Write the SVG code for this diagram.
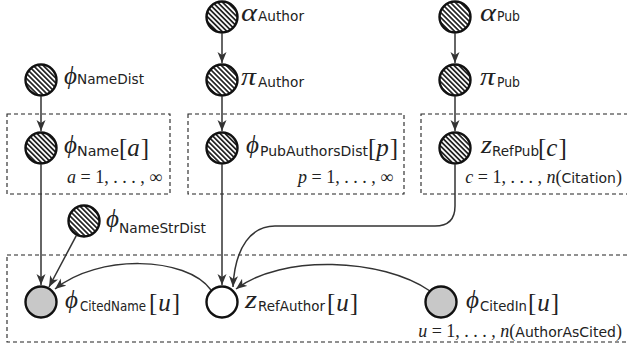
<svg xmlns="http://www.w3.org/2000/svg" width="627" height="356" viewBox="0 0 627 356">
  <style>
    .node { stroke: #111; stroke-width: 2.4; }
    .hatched { fill: url(#hatch); }
    .observed { fill: #c8c8c8; }
    .latent { fill: #fff; }
    .plate { fill: none; stroke: #222; stroke-width: 1.1; stroke-dasharray: 4 3; }
    .edge { fill: none; stroke: #333; stroke-width: 1.5; marker-end: url(#arrow); }
    .m { font-family: "Liberation Serif", "DejaVu Serif", serif; font-style: italic; font-size: 25px; fill: #222; }
    .r { font-family: "Liberation Serif", "DejaVu Serif", serif; font-size: 25px; fill: #222; }
    .s { font-family: "DejaVu Sans", "Liberation Sans", sans-serif; font-size: 13.5px; fill: #222; }
    .eq { font-family: "Liberation Serif", "DejaVu Serif", serif; font-size: 18px; fill: #222; }
    .eqs { font-family: "DejaVu Sans", "Liberation Sans", sans-serif; font-size: 14px; fill: #222; }
  </style>
  <defs>
    <pattern id="hatch" patternUnits="userSpaceOnUse" width="3.5" height="3.5" patternTransform="rotate(45)">
      <rect width="3.5" height="3.5" fill="#fff"/>
      <line x1="0" y1="1.75" x2="3.5" y2="1.75" stroke="#111" stroke-width="1.6"/>
    </pattern>
    <marker id="arrow" markerUnits="userSpaceOnUse" markerWidth="13" markerHeight="10" refX="11" refY="4.5" orient="auto">
      <path d="M0,0 L11,4.5 L0,9 L3,4.5 Z" fill="#333"/>
    </marker>
  </defs>

  <!-- plates -->
  <g id="plates">
    <rect class="plate" x="7" y="114" width="163" height="80"/>
    <rect class="plate" x="188" y="114" width="216" height="80"/>
    <rect class="plate" x="421" y="114" width="215" height="80"/>
    <rect class="plate" x="7" y="255" width="630" height="87"/>
    <text class="eq" x="162" y="183" text-anchor="end"><tspan font-style="italic">a</tspan> = 1, . . . , ∞</text>
    <text class="eq" x="393" y="183" text-anchor="end"><tspan font-style="italic">p</tspan> = 1, . . . , ∞</text>
    <text class="eq" x="622" y="183" text-anchor="end"><tspan font-style="italic">c</tspan> = 1, . . . , <tspan font-style="italic">n</tspan>(<tspan class="eqs">Citation</tspan>)</text>
    <text class="eq" x="622" y="337" text-anchor="end"><tspan font-style="italic">u</tspan> = 1, . . . , <tspan font-style="italic">n</tspan>(<tspan class="eqs">AuthorAsCited</tspan>)</text>
  </g>

  <!-- connectors -->
  <g id="edges">
    <line class="edge" x1="222" y1="33.5" x2="222" y2="63"/>
    <line class="edge" x1="222" y1="96.5" x2="222" y2="131"/>
    <line class="edge" x1="455" y1="33.5" x2="455" y2="63"/>
    <line class="edge" x1="455" y1="96.5" x2="455" y2="131"/>
    <line class="edge" x1="41" y1="96.5" x2="41" y2="131"/>
    <line class="edge" x1="41" y1="164.5" x2="41" y2="285"/>
    <line class="edge" x1="222" y1="164.5" x2="222" y2="285"/>
    <line class="edge" x1="76.3" y1="235.6" x2="49" y2="287"/>
    <path class="edge" d="M455,164.5 L455,206 Q455,226 435,226 L275,226 C252,226 235,246 233,287"/>
    <path class="edge" d="M430,291 C382,258 282,254 236,289"/>
    <path class="edge" d="M211,290 C186,256 98,254 55,289"/>
  </g>

  <g id="alpha-author">
    <circle class="node hatched" cx="222" cy="17" r="15.5"/>
    <text><tspan class="m" x="241" y="21" textLength="16" lengthAdjust="spacingAndGlyphs">α</tspan><tspan class="s" x="258" y="21" textLength="46" lengthAdjust="spacingAndGlyphs">Author</tspan></text>
  </g>
  <g id="pi-author">
    <circle class="node hatched" cx="222" cy="80" r="15.5"/>
    <text><tspan class="m" x="241" y="85" textLength="15" lengthAdjust="spacingAndGlyphs">π</tspan><tspan class="s" x="258" y="87" textLength="46" lengthAdjust="spacingAndGlyphs">Author</tspan></text>
  </g>
  <g id="phi-pubauthorsdist">
    <circle class="node hatched" cx="222" cy="148" r="15.5"/>
    <text><tspan class="m" x="246" y="153">ϕ</tspan><tspan class="s" x="260" y="156" textLength="108" lengthAdjust="spacingAndGlyphs">PubAuthorsDist</tspan><tspan class="r" x="368" y="156">[</tspan><tspan class="m">p</tspan><tspan class="r" dx="1">]</tspan></text>
  </g>
  <g id="phi-namedist">
    <circle class="node hatched" cx="41" cy="80" r="15.5"/>
    <text><tspan class="m" x="64" y="84">ϕ</tspan><tspan class="s" x="77" y="84" textLength="67" lengthAdjust="spacingAndGlyphs">NameDist</tspan></text>
  </g>
  <g id="phi-name">
    <circle class="node hatched" cx="41" cy="148" r="15.5"/>
    <text><tspan class="m" x="64" y="153">ϕ</tspan><tspan class="s" x="77" y="156" textLength="42" lengthAdjust="spacingAndGlyphs">Name</tspan><tspan class="r" x="119" y="156">[</tspan><tspan class="m">a</tspan><tspan class="r" dx="1">]</tspan></text>
  </g>
  <g id="alpha-pub">
    <circle class="node hatched" cx="455" cy="17" r="15.5"/>
    <text><tspan class="m" x="480" y="21" textLength="16" lengthAdjust="spacingAndGlyphs">α</tspan><tspan class="s" x="497" y="21" textLength="23" lengthAdjust="spacingAndGlyphs">Pub</tspan></text>
  </g>
  <g id="pi-pub">
    <circle class="node hatched" cx="455" cy="80" r="15.5"/>
    <text><tspan class="m" x="480" y="85" textLength="15" lengthAdjust="spacingAndGlyphs">π</tspan><tspan class="s" x="497" y="87" textLength="23" lengthAdjust="spacingAndGlyphs">Pub</tspan></text>
  </g>
  <g id="z-refpub">
    <circle class="node hatched" cx="455" cy="148" r="15.5"/>
    <text><tspan class="m" x="481" y="153" textLength="11" lengthAdjust="spacingAndGlyphs">z</tspan><tspan class="s" x="492" y="156" textLength="47" lengthAdjust="spacingAndGlyphs">RefPub</tspan><tspan class="r" x="538" y="156">[</tspan><tspan class="m">c</tspan><tspan class="r" dx="1">]</tspan></text>
  </g>
  <g id="phi-namestrdist">
    <circle class="node hatched" cx="84" cy="221" r="15.5"/>
    <text><tspan class="m" x="106" y="227">ϕ</tspan><tspan class="s" x="119" y="233" textLength="87" lengthAdjust="spacingAndGlyphs">NameStrDist</tspan></text>
  </g>
  <g id="phi-citedname">
    <circle class="node observed" cx="41" cy="302" r="15.5"/>
    <text><tspan class="m" x="65" y="308">ϕ</tspan><tspan class="s" x="80" y="311" textLength="66" lengthAdjust="spacingAndGlyphs">CitedName</tspan><tspan class="r" x="149" y="311">[</tspan><tspan class="m" dx="1">u</tspan><tspan class="r" dx="1">]</tspan></text>
  </g>
  <g id="z-refauthor">
    <circle class="node latent" cx="222" cy="302" r="15.5"/>
    <text><tspan class="m" x="245" y="308" textLength="12" lengthAdjust="spacingAndGlyphs">z</tspan><tspan class="s" x="258" y="311" textLength="67" lengthAdjust="spacingAndGlyphs">RefAuthor</tspan><tspan class="r" x="327" y="311">[</tspan><tspan class="m" dx="1">u</tspan><tspan class="r" dx="1">]</tspan></text>
  </g>
  <g id="phi-citedin">
    <circle class="node observed" cx="441" cy="302" r="15.5"/>
    <text><tspan class="m" x="466" y="308">ϕ</tspan><tspan class="s" x="480" y="311" textLength="47" lengthAdjust="spacingAndGlyphs">CitedIn</tspan><tspan class="r" x="528" y="311">[</tspan><tspan class="m" dx="1">u</tspan><tspan class="r" dx="1">]</tspan></text>
  </g>
</svg>
